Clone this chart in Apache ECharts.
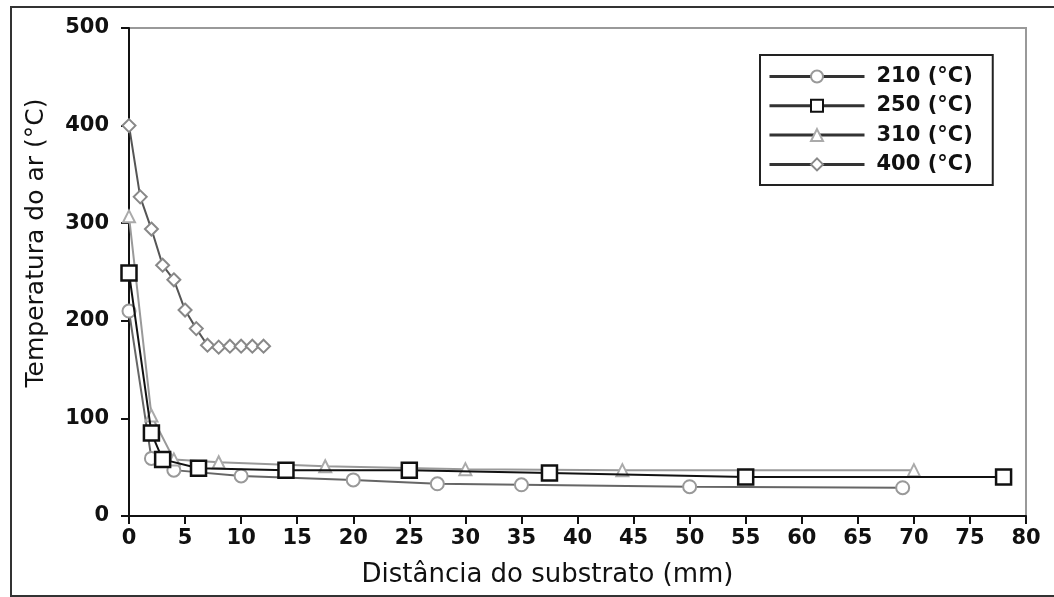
<!DOCTYPE html>
<html>
<head>
<meta charset="utf-8">
<script src="https://cdn.jsdelivr.net/npm/echarts@6/dist/echarts.min.js"></script>
<style>
html,body{margin:0;padding:0;background:#fff;}
#chart{width:1054px;height:597px;}
</style>
</head>
<body>
<div id="chart"></div>
<script>
const seriesNames = ['210 (°C)', '250 (°C)', '310 (°C)', '400 (°C)'];
const data210 = [[0,210],[2,59],[4,47],[10,41],[20,37],[27.5,33],[35,32],[50,30],[69,29]];
const data250 = [[0,249],[2,85],[3,58],[6.2,49],[14,47],[25,47],[37.5,44],[55,40],[78,40]];
const data310 = [[0,307],[2,103],[4,58],[8,55],[17.5,51],[30,48],[44,47],[70,47]];
const data400 = [[0,400],[1,327],[2,294],[3,257],[4,242],[5,211],[6,192],[7,175],[8,173],[9,174],[10,174],[11,174],[12,174]];
const xTicks = [0,80,5];
const yTicks = [0,500,100];
const xTitle = 'Distância do substrato (mm)';
const yTitle = 'Temperatura do ar (°C)';

const chart = echarts.init(document.getElementById('chart'), null, {renderer:'canvas'});
const tickFont = {fontFamily:'DejaVu Sans', fontWeight:'bold', fontSize:21, color:'#111'};
function mk(name, data, symbol, size, lineColor, symColor, symWidth, z){
  return {
    name, type:'line', data, symbol, symbolSize:size, showSymbol:true,
    lineStyle:{color:lineColor, width:2},
    itemStyle:{color:'#fff', borderColor:symColor, borderWidth:symWidth},
    z, animation:false
  };
}
chart.setOption({
  animation:false,
  backgroundColor:'#fff',
  graphic:[{type:'rect', shape:{x:11,y:7,width:1060,height:589}, style:{fill:'none', stroke:'#333', lineWidth:2}, silent:true}],
  grid:{left:129, top:28, right:28, bottom:81, show:true, borderColor:'#999', borderWidth:2, backgroundColor:'transparent'},
  legend:{
    orient:'vertical', left:760, top:55,
    data:seriesNames,
    itemWidth:95, itemHeight:15, itemGap:8.3,
    padding:[11,20,10,8],
    borderColor:'#222', borderWidth:2, backgroundColor:'#fff',
    textStyle:{fontFamily:'DejaVu Sans', fontWeight:'bold', fontSize:21, lineHeight:21, color:'#111', padding:[0,0,0,7]},
    lineStyle:{color:'#333', width:3},
    selectedMode:false
  },
  xAxis:{
    type:'value', min:xTicks[0], max:xTicks[1], interval:xTicks[2],
    axisLine:{onZero:false, lineStyle:{color:'#111', width:2}},
    axisTick:{show:true, inside:false, length:8, lineStyle:{color:'#111', width:2}},
    axisLabel:Object.assign({margin:12}, tickFont),
    splitLine:{show:false},
    name:xTitle, nameLocation:'middle', nameGap:46,
    nameTextStyle:{fontFamily:'DejaVu Sans', fontSize:26, color:'#111', padding:[0,60,0,0]}
  },
  yAxis:{
    type:'value', min:yTicks[0], max:yTicks[1], interval:yTicks[2],
    axisLine:{lineStyle:{color:'#111', width:2}},
    axisTick:{show:true, inside:false, length:8, lineStyle:{color:'#111', width:2}},
    axisLabel:Object.assign({margin:20}, tickFont),
    splitLine:{show:false},
    name:yTitle, nameLocation:'middle', nameGap:80,
    nameTextStyle:{fontFamily:'DejaVu Sans', fontSize:25, color:'#111', padding:[0,0,0,58]}
  },
  series:[
    mk(seriesNames[0], data210, 'circle', 13, '#666', '#999', 2, 2),
    mk(seriesNames[1], data250, 'rect', 15, '#111', '#111', 2.5, 5),
    mk(seriesNames[2], data310, 'triangle', 12, '#999', '#aaa', 2, 3),
    mk(seriesNames[3], data400, 'diamond', 13, '#555', '#888', 2, 4)
  ]
});
</script>
</body>
</html>
